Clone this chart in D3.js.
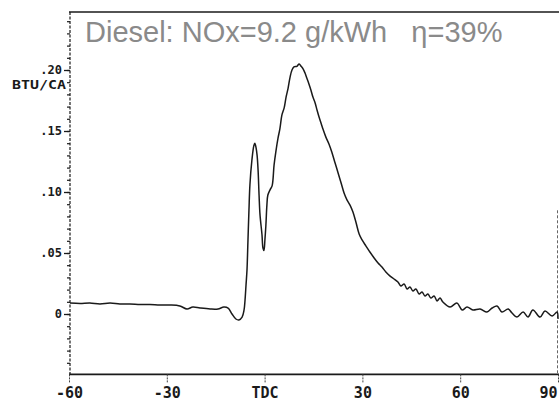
<!DOCTYPE html>
<html><head><meta charset="utf-8">
<script src="https://cdn.jsdelivr.net/npm/d3@7"></script>
<style>
html,body{margin:0;padding:0;background:#fff;}
svg{display:block;}
</style></head>
<body>
<svg id="chart" width="559" height="401"></svg>
<script>
// crank angle (deg) and heat release rate (BTU/CA)
const crankAngle = [-59.7,-56.6,-53.6,-50.5,-47.4,-44.4,-41.3,-38.2,-35.2,-32.1,-29.0,-26.0,-23.8,-22.0,-19.8,-16.7,-14.3,-12.5,-11.2,-10.0,-8.8,-7.9,-6.9,-6.3,-6.0,-5.7,-5.4,-5.1,-4.8,-4.5,-3.9,-3.3,-3.0,-2.6,-2.3,-2.0,-1.7,-1.4,-0.8,-0.5,-0.2,0.1,0.4,0.7,1.0,1.7,2.3,2.9,3.5,4.1,4.7,5.3,6.0,6.6,7.2,7.8,8.4,9.0,9.9,10.6,11.2,11.8,12.4,13.0,13.6,14.2,14.8,15.5,16.1,16.7,17.3,17.9,18.8,19.8,20.7,21.6,22.5,23.4,24.4,25.3,26.2,27.1,28.0,29.0,29.9,31.1,32.3,33.6,34.8,36.0,37.2,38.5,39.7,40.9,41.8,42.8,43.7,44.6,45.5,46.4,47.4,48.3,49.2,50.1,51.0,52.0,52.9,53.8,54.7,56.9,59.0,60.6,62.1,63.9,66.1,68.2,69.8,71.3,72.8,74.7,75.9,77.4,79.3,80.8,82.3,84.5,86.0,88.2,89.7,90.0];
const heatRelease = [0.009,0.0086,0.009,0.0082,0.009,0.0082,0.0082,0.0078,0.0078,0.0074,0.0074,0.0066,0.0041,0.0057,0.0049,0.0041,0.0041,0.0057,0.0049,0.0,-0.0041,-0.0049,-0.0025,0.0033,0.0115,0.0238,0.036,0.0607,0.085,0.106,0.126,0.138,0.140,0.136,0.130,0.118,0.0975,0.081,0.065,0.054,0.052,0.061,0.073,0.089,0.0975,0.102,0.105,0.122,0.134,0.144,0.152,0.163,0.169,0.178,0.185,0.194,0.200,0.2025,0.203,0.205,0.203,0.201,0.1975,0.193,0.1885,0.1836,0.178,0.173,0.167,0.1615,0.1566,0.1516,0.145,0.139,0.132,0.124,0.116,0.108,0.099,0.0934,0.0893,0.0836,0.0754,0.0656,0.0607,0.0557,0.0508,0.0459,0.0418,0.0385,0.0344,0.0311,0.0287,0.0262,0.0230,0.0246,0.0205,0.0221,0.0189,0.0205,0.0164,0.0180,0.0148,0.0164,0.0131,0.0148,0.0107,0.0131,0.0098,0.0057,0.0090,0.0033,0.0057,0.0033,0.0041,0.0016,0.0049,0.0066,0.0016,0.0041,0.0008,-0.0025,0.0016,-0.0025,0.0033,-0.0025,0.0025,-0.0016,0.0016,-0.0040];

const xTickValues = [-60,-30,0,30,60,90];
const xTickLabels = ["-60","-30","TDC","30","60","90"];
const yTickValues = [0,0.05,0.10,0.15,0.20];
const yTickLabels = ["0",".05",".10",".15",".20"];
const yUnit = "BTU/CA";
const title = "Diesel: NOx=9.2 g/kWh\u00a0\u00a0\u00a0η=39%";

const svg = d3.select("#chart");
const x = d3.scaleLinear().domain([-60,90]).range([69,558]);
const y = d3.scaleLinear().domain([-0.05,0.25]).range([375,9]);
const ink = "#1a1a1a";
const mono = "'DejaVu Sans Mono','Liberation Mono',monospace";

// frame lines
const [x0,x1] = x.range();
svg.append("line").attr("x1",x0).attr("x2",559).attr("y1",12).attr("y2",12)
  .attr("stroke",ink).attr("stroke-width",1.6);
svg.append("line").attr("x1",x0).attr("x2",559).attr("y1",y(-0.0495)).attr("y2",y(-0.0495))
  .attr("stroke",ink).attr("stroke-width",1.6);
svg.append("line").attr("x1",x0+1).attr("x2",x0+1).attr("y1",12).attr("y2",y(-0.0495))
  .attr("stroke",ink).attr("stroke-width",1.2).attr("stroke-dasharray","3,1.5");
svg.append("line").attr("x1",x1-0.5).attr("x2",x1-0.5).attr("y1",y(0.085)).attr("y2",y(-0.0495))
  .attr("stroke","#666").attr("stroke-width",1).attr("stroke-dasharray","3,2");

// minor y ticks
const minor = d3.range(-4,25).map(d=>d/100);
const gMinor = svg.append("g").attr("transform",`translate(${x0+1},0)`)
  .call(d3.axisLeft(y).tickValues(minor).tickSize(3).tickFormat(""));
gMinor.select(".domain").remove();
gMinor.selectAll("line").attr("stroke",ink).attr("stroke-width",1.2);

// major y ticks
const gy = svg.append("g").attr("transform",`translate(${x0+1},0)`)
  .call(d3.axisLeft(y).tickValues(yTickValues).tickSize(6).tickPadding(2)
    .tickFormat((d,i)=>yTickLabels[i]));
gy.select(".domain").remove();
gy.selectAll("line").attr("stroke",ink).attr("stroke-width",1.3);
gy.selectAll("text").attr("font-family",mono).attr("font-size",12).attr("font-weight","bold")
  .attr("fill",ink);
svg.append("text").attr("x",x0-3).attr("y",y(0.20)+19).attr("text-anchor","end")
  .attr("font-family",mono).attr("font-size",12).attr("font-weight","bold")
  .attr("fill",ink).attr("textLength",54).attr("lengthAdjust","spacingAndGlyphs").text(yUnit);

// x ticks
const gx = svg.append("g").attr("transform",`translate(0,${y(-0.0495)})`)
  .call(d3.axisBottom(x).tickValues(xTickValues).tickSize(8).tickPadding(5)
    .tickFormat((d,i)=>xTickLabels[i]));
gx.select(".domain").remove();
gx.selectAll("line").attr("stroke","#444").attr("stroke-width",1).attr("stroke-dasharray","2,1");
gx.selectAll("text").attr("font-family",mono).attr("font-size",15).attr("font-weight","bold")
  .attr("fill",ink);
// keep the last label inside the picture
gx.selectAll("text").filter(d=>d===xTickValues[xTickValues.length-1])
  .attr("text-anchor","end").attr("dx",-1);

// curve
const pts = crankAngle.map((a,i)=>[a,heatRelease[i]]);
svg.append("path").datum(pts)
  .attr("d",d3.line().x(d=>x(d[0])).y(d=>y(d[1])).curve(d3.curveCatmullRom.alpha(0.5)))
  .attr("fill","none").attr("stroke",ink).attr("stroke-width",1.5).attr("stroke-linejoin","round");

// title
svg.append("text").attr("x",85).attr("y",42)
  .attr("font-family","'Liberation Sans',Arial,sans-serif").attr("font-size",29)
  .attr("fill","#8a8a8a").text(title);
</script>
</body></html>
